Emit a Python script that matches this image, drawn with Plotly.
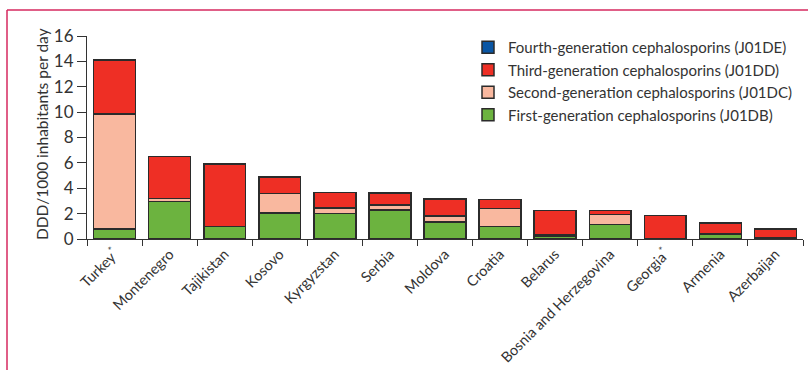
import plotly.graph_objects as go

countries = ["Turkey<sup>*</sup>", "Montenegro", "Tajikistan", "Kosovo", "Kyrgyzstan", "Serbia",
             "Moldova", "Croatia", "Belarus", "Bosnia and Herzegovina", "Georgia<sup>*</sup>",
             "Armenia", "Azerbaijan"]

first_gen = [0.80, 2.95, 1.00, 2.05, 2.00, 2.28, 1.35, 0.97, 0.20, 1.15, 0.05, 0.38, 0.10]
second_gen = [9.05, 0.25, 0.00, 1.53, 0.45, 0.40, 0.48, 1.45, 0.12, 0.80, 0.00, 0.00, 0.00]
third_gen = [4.23, 3.30, 4.90, 1.31, 1.21, 0.93, 1.34, 0.70, 1.92, 0.30, 1.80, 0.88, 0.68]
fourth_gen = [0.02, 0.00, 0.00, 0.00, 0.00, 0.00, 0.00, 0.00, 0.00, 0.00, 0.00, 0.00, 0.00]

series = [
    ("First-generation cephalosporins (J01DB)", first_gen, "#6cb33f"),
    ("Second-generation cephalosporins (J01DC)", second_gen, "#f9b89f"),
    ("Third-generation cephalosporins (J01DD)", third_gen, "#ee2f25"),
    ("Fourth-generation cephalosporins (J01DE)", fourth_gen, "#0a56a4"),
]

FONT = "Lato"
TEXT = "#333333"

fig = go.Figure()
for name, vals, color in series:
    fig.add_trace(go.Bar(
        x=countries, y=vals, name=name,
        marker=dict(color=color, line=dict(color="#2b2b2b", width=1.5)),
    ))

W, H = 808, 370
L, R, T, B = 87, 5, 36, 131
pw, ph = W - L - R, H - T - B

def px_x(p):
    return (p - L) / pw

def px_y(p):
    return (H - B - p) / ph

fig.update_layout(
    width=W, height=H,
    margin=dict(l=L, r=R, t=T, b=B, autoexpand=False),
    barmode="stack",
    bargap=0.24,
    plot_bgcolor="white",
    paper_bgcolor="white",
    font=dict(family=FONT, size=15, color=TEXT),
    showlegend=True,
    legend=dict(
        traceorder="reversed",
        x=px_x(468), y=px_y(31), xanchor="left", yanchor="top",
        font=dict(family=FONT, size=15, color=TEXT),
        bgcolor="rgba(0,0,0,0)",
        tracegroupgap=0,
        itemwidth=30,
    ),
    xaxis=dict(
        automargin=False,
        showline=True, linecolor="#333333", linewidth=1.2,
        ticks="outside", ticklen=6, tickcolor="#333333", tickwidth=1.2,
        tickson="boundaries",
        tickangle=-45,
        tickfont=dict(family=FONT, size=14.5, color=TEXT),
        showgrid=False,
    ),
    yaxis=dict(
        automargin=False,
        range=[0, 16], dtick=2,
        showline=True, linecolor="#333333", linewidth=1.2,
        ticks="outside", ticklen=9, tickcolor="#333333", tickwidth=1.2,
        tickfont=dict(family=FONT, size=17, color=TEXT),
        showgrid=False, zeroline=False,
    ),
    annotations=[
        dict(text="DDD/1000 inhabitants per day", textangle=-90,
             xref="paper", yref="paper", x=px_x(42), y=px_y(134),
             xanchor="center", yanchor="middle", showarrow=False,
             font=dict(family=FONT, size=15.5, color=TEXT)),
    ],
    shapes=[
        dict(type="line", xref="paper", yref="paper",
             x0=px_x(7), x1=px_x(812), y0=px_y(10), y1=px_y(10),
             line=dict(color="#d6285f", width=1.5)),
        dict(type="line", xref="paper", yref="paper",
             x0=px_x(7), x1=px_x(7), y0=px_y(10), y1=px_y(375),
             line=dict(color="#d6285f", width=1.5)),
    ],
)

fig.write_html("out.html")
